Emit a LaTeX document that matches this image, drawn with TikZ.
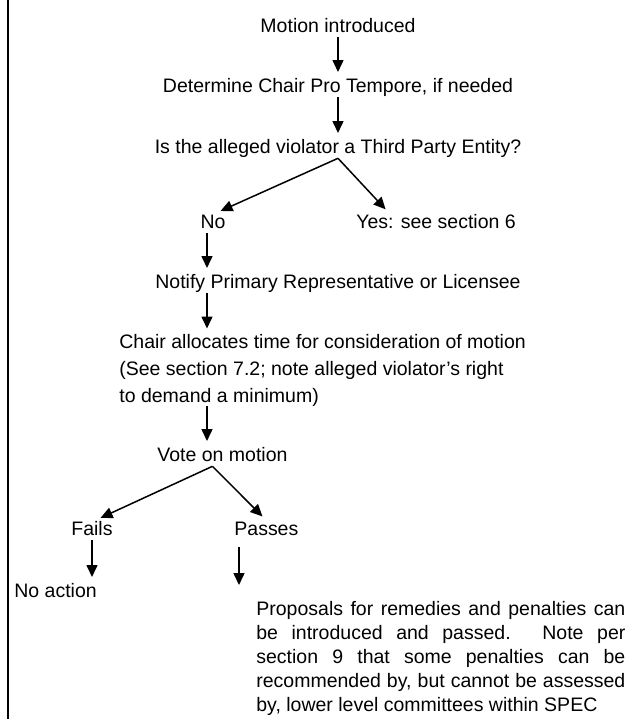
\documentclass[tikz,border=0pt]{standalone}
\usepackage{fontspec}
\setmainfont{Liberation Sans}
\usetikzlibrary{arrows.meta}

\begin{document}
\begin{tikzpicture}[x=0.5pt,y=-0.5pt,
  stepline/.style={inner sep=0pt,text height=7.3pt,text depth=2.45pt,font=\fontsize{9.75}{13.5}\selectfont},
  stepblock/.style={inner sep=0pt,align=left,font=\fontsize{9.75}{13.5}\selectfont},
  flow/.style={-{Triangle[length=6pt,width=5.5pt]},line width=0.75pt,shorten >=2.5pt}]

\useasboundingbox (0,0) rectangle (631,719);
\draw[line width=1.25pt] (8,0)--(8,719);

\node[stepline,anchor=base] (motion) at (338,32) {Motion introduced};
\node[stepline,anchor=base] (protem) at (338,92) {Determine Chair Pro Tempore, if needed};
\node[stepline,anchor=base] (thirdparty) at (338,153) {Is the alleged violator a Third Party Entity?};
\node[stepline,anchor=base] (no) at (213,228) {No};
\node[stepline,anchor=base west] (yes) at (356,228) {Yes: see section 6};
\node[stepline,anchor=base] (notify) at (338,288) {Notify Primary Representative or Licensee};
\node[stepblock,anchor=north west] (allocate) at (119,333.5) {Chair allocates time for consideration of motion\\(See section 7.2; note alleged violator’s right\\to demand a minimum)};
\node[stepline,anchor=base west] (vote) at (157,461) {Vote on motion};
\node[stepline,anchor=base] (fails) at (92,535) {Fails};
\node[stepline,anchor=base west] (passes) at (234,535) {Passes};
\node[stepline,anchor=base west] (noaction) at (14,597) {No action};
\node[stepblock,anchor=north west,text width=184.5pt,align=justify,font=\fontsize{9.75}{12}\selectfont] (remedies) at (256,601) {Proposals for remedies and penalties can\linebreak be introduced and passed.  Note per\linebreak section 9 that some penalties can be\linebreak recommended by, but cannot be assessed\linebreak by, lower level committees within SPEC};

\draw[flow] (motion) -- (protem);
\draw[flow] (protem) -- (thirdparty);
\draw[flow] (thirdparty.south) -- ([xshift=1.5pt]no.north);
\draw[flow] (thirdparty.south) -- ([xshift=16.5pt]yes.north west);
\draw[flow] ([xshift=-3pt]no.south) -- ([xshift=-3pt]no.south |- notify.north);
\draw[flow] ([xshift=-3pt]no.south |- notify.south) -- ([xshift=-3pt]no.south |- allocate.north);
\draw[flow] ([xshift=-3pt]no.south |- allocate.south) -- ([xshift=-3pt]no.south |- vote.north);
\draw[flow] ([xshift=-5pt]vote.south) -- ([xshift=2pt]fails.north);
\draw[flow] ([xshift=-5pt]vote.south) -- ([xshift=16pt]passes.north west);
\draw[flow] (fails.south) -- (fails.south |- noaction.north);
\draw[flow,shorten <=3.5pt,shorten >=8pt] ([xshift=2.5pt]passes.south west) -- ([xshift=2.5pt]passes.south west |- remedies.north);

\end{tikzpicture}
\end{document}
